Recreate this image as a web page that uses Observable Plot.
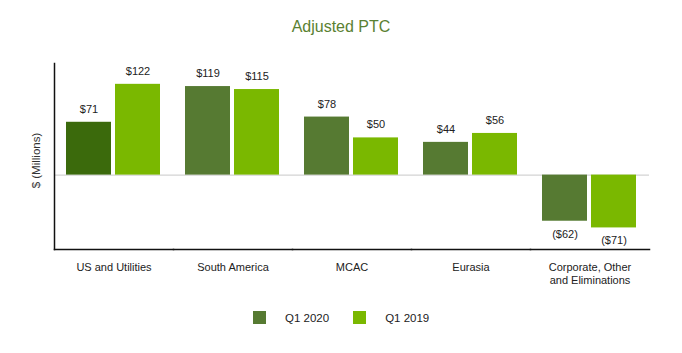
<!DOCTYPE html>
<html><head><meta charset="utf-8">
<script src="https://cdn.jsdelivr.net/npm/d3@7"></script>
<script src="https://cdn.jsdelivr.net/npm/@observablehq/plot@0.6"></script>
<style>
body{margin:0;background:#fff;font-family:"Liberation Sans",Arial,sans-serif;}
#title{width:682px;height:50px;box-sizing:border-box;padding-top:17px;text-align:center;font-size:16px;line-height:20px;color:#5a8132;}
#legend{display:flex;align-items:center;padding-left:253px;height:45px;font-size:11.5px;color:#222;}
.sw{width:13px;height:13px;margin-right:19px;}
.lab{margin-right:24px;}
</style></head><body>
<div id="title">Adjusted PTC</div>
<div id="chart"></div>
<div id="legend"></div>
<script>
const categories = ["US and Utilities", "South America", "MCAC", "Eurasia", "Corporate, Other and Eliminations"];
const categoryLabels = ["US and Utilities", "South America", "MCAC", "Eurasia", "Corporate, Other\nand Eliminations"];
const series = ["Q1 2020", "Q1 2019"];
const q1_2020 = [71, 119, 78, 44, -62];
const q1_2019 = [122, 115, 50, 56, -71];

const colDarkest = "#3b6a0c";
const colDark = "#567a32";
const colLight = "#7ab800";

const rows = categories.flatMap((c, i) => [
  {cat: c, series: series[0], value: q1_2020[i]},
  {cat: c, series: series[1], value: q1_2019[i]}
]);
const fillFor = d => d.series === series[1] ? colLight : (d.cat === categories[0] ? colDarkest : colDark);
const fmt = v => v < 0 ? `($${-v})` : `$${v}`;

const chart = Plot.plot({
  width: 682, height: 245,
  marginTop: 13, marginBottom: 46, marginLeft: 53, marginRight: 32,
  style: {fontFamily: "'Liberation Sans', Arial, sans-serif", fontSize: "11px", color: "#222", background: "#fff"},
  fx: {domain: categories, padding: 0, label: null},
  x: {domain: series, paddingInner: 0.08, paddingOuter: 0.234, axis: null},
  y: {domain: [-100, 150], axis: null},
  marks: [
    Plot.ruleY([0], {stroke: "#c8c8c8"}),
    Plot.barY(rows, {fx: "cat", x: "series", y: "value", fill: fillFor}),
    Plot.text(rows, {filter: d => d.value >= 0, fx: "cat", x: "series", y: "value", text: d => fmt(d.value), dy: -13, fill: "#222", fontSize: 11}),
    Plot.text(rows, {filter: d => d.value < 0, fx: "cat", x: "series", y: "value", text: d => fmt(d.value), dy: 13, fill: "#222", fontSize: 11}),
    Plot.frame({anchor: "bottom", stroke: "#111", strokeWidth: 1.5}),
    Plot.frame({anchor: "left", facetAnchor: "left", stroke: "#111", strokeWidth: 1.5}),
    Plot.axisFx({anchor: "bottom", tickSize: 0, tickPadding: 12, label: null, fill: "#222", fontSize: 11, lineHeight: 1.18,
      tickFormat: d => categoryLabels[categories.indexOf(d)]}),
    Plot.text(["$ (Millions)"], {text: d => d, frameAnchor: "left", rotate: -90, dx: -18, dy: 4, textAnchor: "middle", facetAnchor: "left", fontSize: 11.5, fill: "#333"})
  ]
});
document.getElementById("chart").appendChild(chart);

const legend = document.getElementById("legend");
const legendColors = [colDark, colLight];
series.forEach((s, i) => {
  const sw = document.createElement("div");
  sw.className = "sw";
  sw.style.background = legendColors[i];
  const lab = document.createElement("div");
  lab.className = "lab";
  lab.textContent = s;
  legend.appendChild(sw);
  legend.appendChild(lab);
});
</script>
</body></html>
